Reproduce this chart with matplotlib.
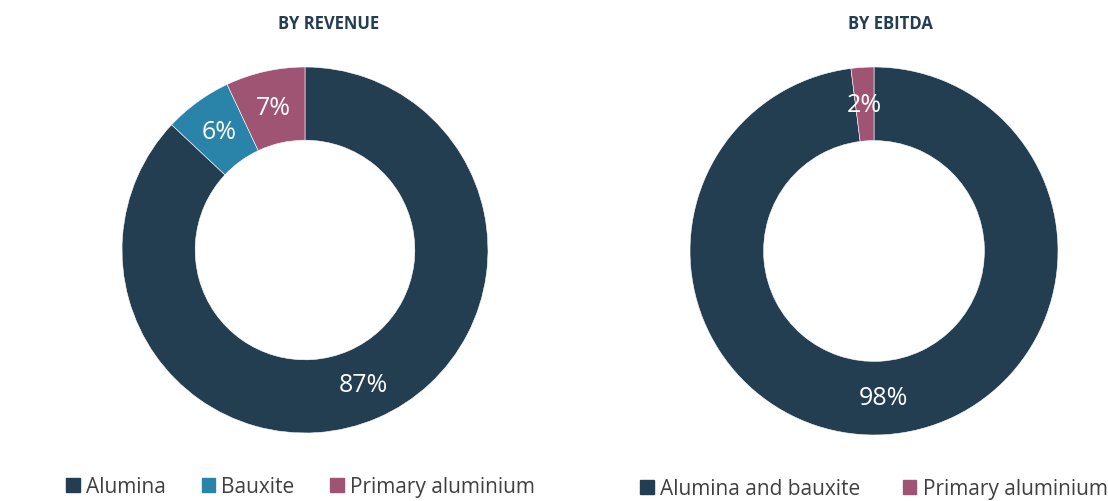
import matplotlib
matplotlib.use("Agg")
import matplotlib.pyplot as plt
from matplotlib.patches import Patch

plt.rcParams['font.family'] = ['Open Sans', 'DejaVu Sans']

navy = '#233d51'
blue = '#2a83a8'
mauve = '#a05474'

rev_labels = ['Alumina', 'Bauxite', 'Primary aluminium']
rev_values = [87, 6, 7]
rev_colors = [navy, blue, mauve]

ebitda_labels = ['Alumina and bauxite', 'Primary aluminium']
ebitda_values = [98, 2]
ebitda_colors = [navy, mauve]

W, H = 1108, 502
fig = plt.figure(figsize=(W / 100, H / 100), dpi=100)


def donut(cx, cy, r, values, colors):
    ax = fig.add_axes([(cx - r) / W, (H - cy - r) / H, 2 * r / W, 2 * r / H])
    ax.pie(values, colors=colors, startangle=90, counterclock=False,
           radius=1, autopct='%d%%', pctdistance=0.8,
           wedgeprops=dict(width=0.4, edgecolor='white', linewidth=0.4),
           textprops=dict(color='white', fontsize=18))
    ax.set_xlim(-1, 1)
    ax.set_ylim(-1, 1)
    ax.set_aspect('equal')
    ax.axis('off')
    return ax


donut(305, 251, 183, rev_values, rev_colors)
donut(874, 252, 184, ebitda_values, ebitda_colors)

fig.text(329 / W, 1 - 24 / H, 'BY REVENUE', ha='center', va='center',
         fontsize=12, fontweight='bold', color=navy)
fig.text(890 / W, 1 - 24 / H, 'BY EBITDA', ha='center', va='center',
         fontsize=12, fontweight='bold', color=navy)

leg_kw = dict(frameon=False, handlelength=0.65, handleheight=0.65,
              handletextpad=0.3, fontsize=15, labelcolor='#404040',
              borderpad=0, borderaxespad=0)

fig.legend([Patch(color=c) for c in rev_colors], rev_labels,
           loc='center left', bbox_to_anchor=(66 / W, 1 - 488 / H),
           ncol=3, columnspacing=1.72, **leg_kw)
fig.legend([Patch(color=c) for c in ebitda_colors], ebitda_labels,
           loc='center left', bbox_to_anchor=(640 / W, 1 - 490 / H),
           ncol=2, columnspacing=2.05, **leg_kw)

fig.savefig('out.png', dpi=100)
